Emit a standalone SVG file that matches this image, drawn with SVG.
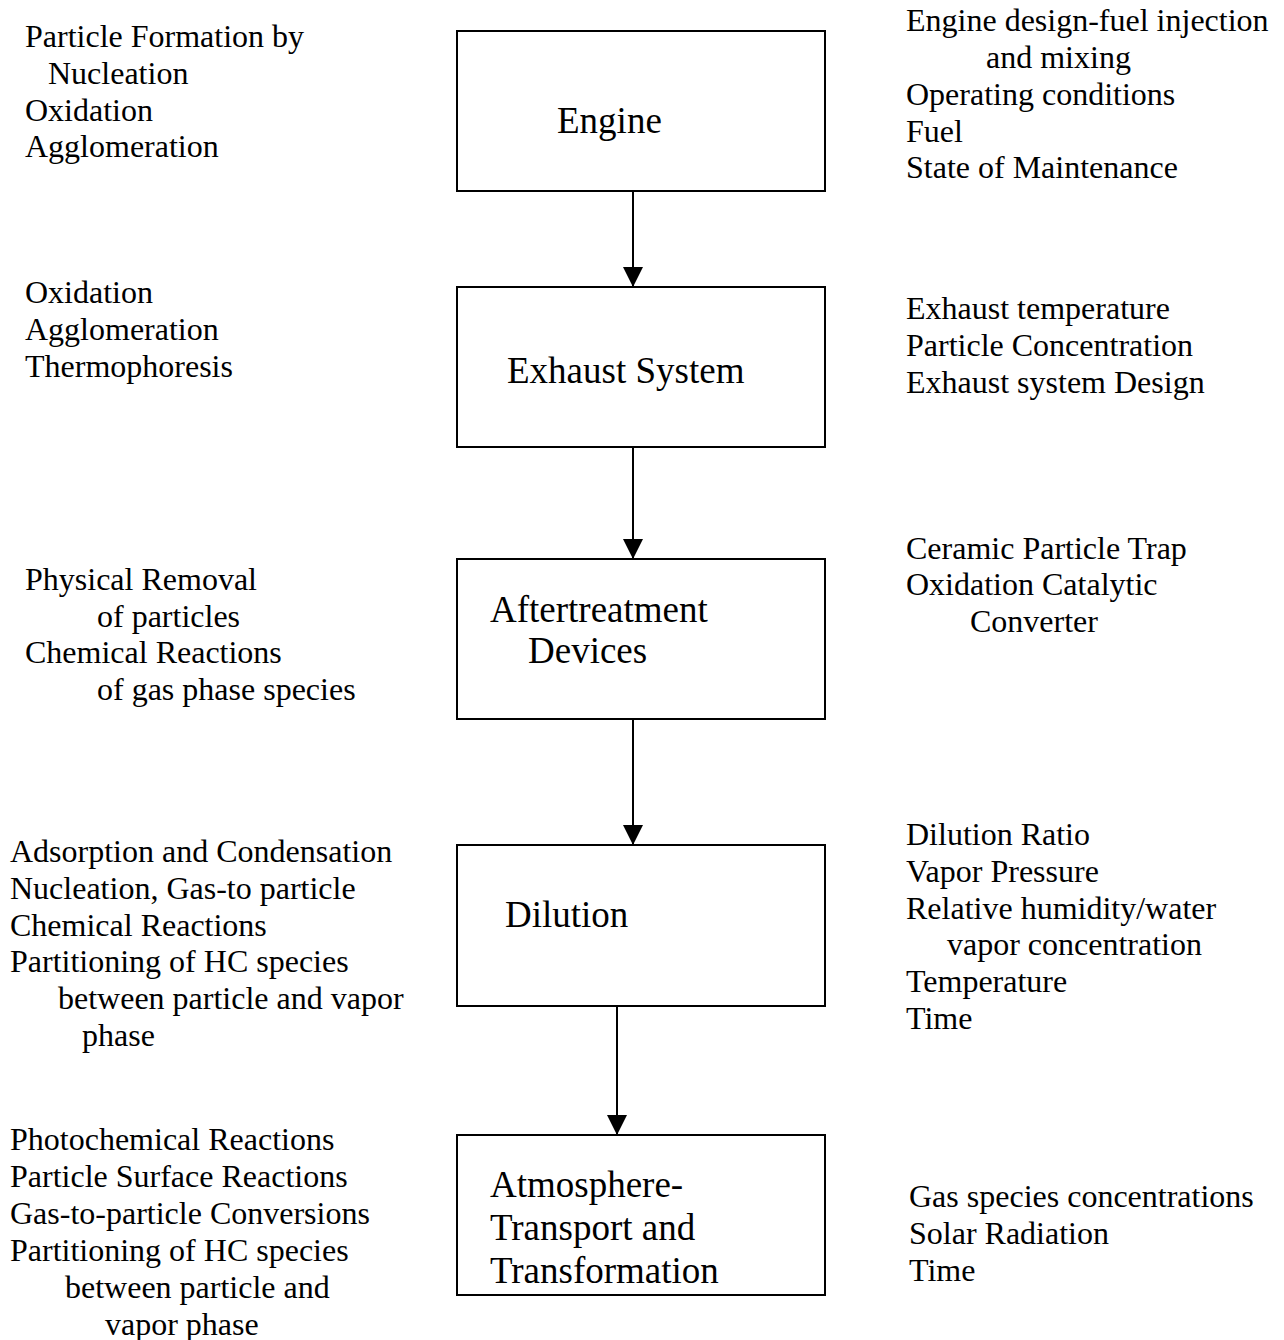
<svg xmlns="http://www.w3.org/2000/svg" width="1284" height="1340" viewBox="0 0 1284 1340">
<defs>
<style>
text{font-family:"Liberation Serif","Times New Roman",serif;fill:#000}
.s{font-size:32px}
.b{font-size:37px}
.box{fill:#fff;stroke:#000;stroke-width:2}
.con{stroke:#000;stroke-width:2;fill:none}
</style>
<marker id="ah" markerUnits="userSpaceOnUse" markerWidth="20" markerHeight="20" refX="20" refY="10" orient="auto">
<path d="M0,0 L20,10 L0,20 z" fill="#000"/>
</marker>
</defs>
<rect width="1284" height="1340" fill="#fff"/>

<g id="connectors">
<line class="con" x1="633" y1="191" x2="633" y2="287" marker-end="url(#ah)"/>
<line class="con" x1="633" y1="447" x2="633" y2="559" marker-end="url(#ah)"/>
<line class="con" x1="633" y1="719" x2="633" y2="845" marker-end="url(#ah)"/>
<line class="con" x1="617" y1="1006" x2="617" y2="1135" marker-end="url(#ah)"/>
</g>

<g id="engine">
<rect class="box" x="457" y="31" width="368" height="160"/>
<text class="b" x="557" y="133">Engine</text>
</g>
<g id="engine-left">
<text class="s" x="25" y="47">Particle Formation by</text>
<text class="s" x="48" y="84">Nucleation</text>
<text class="s" x="25" y="121">Oxidation</text>
<text class="s" x="25" y="157">Agglomeration</text>
</g>
<g id="engine-right">
<text class="s" x="906" y="31">Engine design-fuel injection</text>
<text class="s" x="986" y="68">and mixing</text>
<text class="s" x="906" y="105">Operating conditions</text>
<text class="s" x="906" y="142">Fuel</text>
<text class="s" x="906" y="178">State of Maintenance</text>
</g>

<g id="exhaust">
<rect class="box" x="457" y="287" width="368" height="160"/>
<text class="b" x="507" y="383">Exhaust System</text>
</g>
<g id="exhaust-left">
<text class="s" x="25" y="303">Oxidation</text>
<text class="s" x="25" y="340">Agglomeration</text>
<text class="s" x="25" y="377">Thermophoresis</text>
</g>
<g id="exhaust-right">
<text class="s" x="906" y="319">Exhaust temperature</text>
<text class="s" x="906" y="356">Particle Concentration</text>
<text class="s" x="906" y="393">Exhaust system Design</text>
</g>

<g id="aftertreatment">
<rect class="box" x="457" y="559" width="368" height="160"/>
<text class="b" x="490" y="622">Aftertreatment</text>
<text class="b" x="528" y="663">Devices</text>
</g>
<g id="aftertreatment-left">
<text class="s" x="25" y="590">Physical Removal</text>
<text class="s" x="97" y="627">of particles</text>
<text class="s" x="25" y="663">Chemical Reactions</text>
<text class="s" x="97" y="700">of gas phase species</text>
</g>
<g id="aftertreatment-right">
<text class="s" x="906" y="559">Ceramic Particle Trap</text>
<text class="s" x="906" y="595">Oxidation Catalytic</text>
<text class="s" x="970" y="632">Converter</text>
</g>

<g id="dilution">
<rect class="box" x="457" y="845" width="368" height="161"/>
<text class="b" x="505" y="927">Dilution</text>
</g>
<g id="dilution-left">
<text class="s" x="10" y="862">Adsorption and Condensation</text>
<text class="s" x="10" y="899">Nucleation, Gas-to particle</text>
<text class="s" x="10" y="936">Chemical Reactions</text>
<text class="s" x="10" y="972">Partitioning of HC species</text>
<text class="s" x="58" y="1009">between particle and vapor</text>
<text class="s" x="82" y="1046">phase</text>
</g>
<g id="dilution-right">
<text class="s" x="906" y="845">Dilution Ratio</text>
<text class="s" x="906" y="882">Vapor Pressure</text>
<text class="s" x="906" y="919">Relative humidity/water</text>
<text class="s" x="947" y="955">vapor concentration</text>
<text class="s" x="906" y="992">Temperature</text>
<text class="s" x="906" y="1029">Time</text>
</g>

<g id="atmosphere">
<rect class="box" x="457" y="1135" width="368" height="160"/>
<text class="b" x="490" y="1197">Atmosphere-</text>
<text class="b" x="490" y="1240">Transport and</text>
<text class="b" x="490" y="1283">Transformation</text>
</g>
<g id="atmosphere-left">
<text class="s" x="10" y="1150">Photochemical Reactions</text>
<text class="s" x="10" y="1187">Particle Surface Reactions</text>
<text class="s" x="10" y="1224">Gas-to-particle Conversions</text>
<text class="s" x="10" y="1261">Partitioning of HC species</text>
<text class="s" x="65" y="1298">between particle and</text>
<text class="s" x="105" y="1335">vapor phase</text>
</g>
<g id="atmosphere-right">
<text class="s" x="909" y="1207">Gas species concentrations</text>
<text class="s" x="909" y="1244">Solar Radiation</text>
<text class="s" x="909" y="1281">Time</text>
</g>
</svg>
